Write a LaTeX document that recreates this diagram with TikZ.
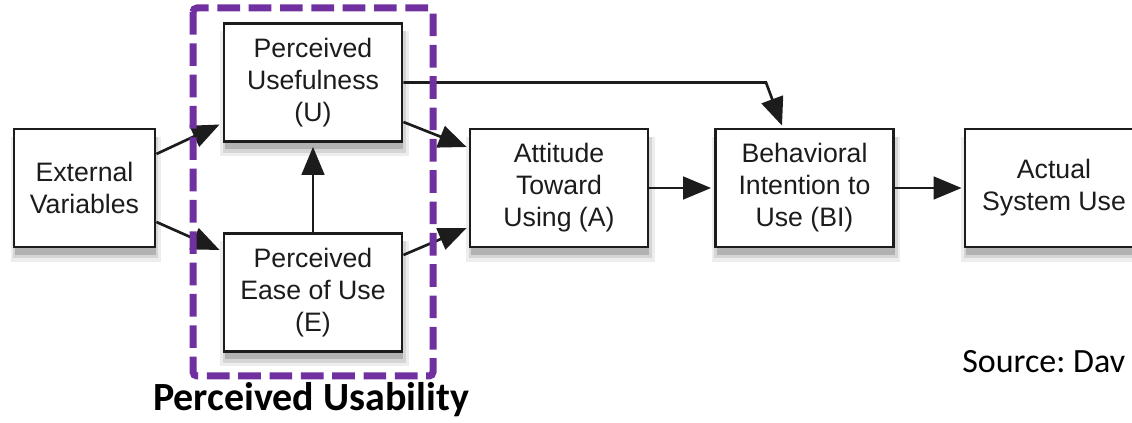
\documentclass[tikz,border=0pt]{standalone}
\usepackage{fontspec}
\setmainfont{Liberation Sans}
\newfontfamily\calibri{Carlito}
\usepackage{xcolor}
\usetikzlibrary{calc,arrows.meta,shadows}
\definecolor{ink}{HTML}{1C1C1C}
\definecolor{usab}{HTML}{7030A0}
\tikzset{
  softshadow/.style={
    general shadow={fill=black, opacity=0.16, shadow xshift=1pt, shadow yshift=-6pt},
    general shadow={fill=black, opacity=0.10, shadow xshift=1pt, shadow yshift=-7pt, shadow scale=1.03},
    general shadow={fill=black, opacity=0.07, shadow xshift=1pt, shadow yshift=-8pt, shadow scale=1.06}},
  box/.style={draw=ink, line width=2.1pt, fill=white, align=center, text=ink,
    inner sep=0pt, font=\fontsize{20}{24}\selectfont, softshadow},
  wide/.style={box, minimum width=133.5pt, minimum height=88.5pt},
  arr/.style={draw=ink, line width=2pt, -{Triangle[length=21pt,width=17pt]}},
  usabline/.style={draw=usab, line width=5.25pt, dash pattern=on 17pt off 6.5pt, rounded corners=3pt},
  caption/.style={font=\calibri\bfseries\fontsize{30}{36}\selectfont, inner sep=0pt},
  srclabel/.style={font=\calibri\fontsize{25.5}{30}\selectfont, inner sep=0pt}
}

\begin{document}
\begin{tikzpicture}[x=0.75pt, y=-0.75pt]
  \useasboundingbox (0,0) rectangle (1132,423);

  % boxes of the model
  \node[box, minimum width=105.75pt, minimum height=88.5pt] (ext) at (84.5,188) {External\\Variables};
  \node[wide] (pu) at (313,82.5) {Perceived\\Usefulness\\(U)};
  \node[wide] (peou) at (313,292.5) {Perceived\\Ease of Use\\(E)};
  \node[wide] (att) at (559,188) {Attitude\\Toward\\Using (A)};
  \node[wide] (bi) at (804.5,188) {Behavioral\\Intention to\\Use (BI)};
  \node[wide] (use) at (1054,188) {Actual\\System Use};

  \draw[arr] ($(ext.east)+(0,-34)$) -- ($(pu.west)+(-3,42)$);
  \draw[arr] ($(ext.east)+(0,34)$) -- ($(peou.west)+(-3,-42.5)$);
  \draw[arr] (peou.north) -- ($(pu.south)+(0,4)$);
  \draw[arr] ($(pu.east)+(0,39.5)$) -- ($(att.west)+(-2,-41)$);
  \draw[arr] ($(peou.east)+(0,-37.5)$) -- ($(att.west)+(-2,40)$);
  \draw[arr] (att.east) -- ($(bi.west)+(-3,0)$);
  \draw[arr] (bi.east) -- ($(use.west)+(-2,0)$);

  \coordinate (bend) at (766,82.5);
  \draw[arr] (pu.east) -- (bend) -- ($(bi.north)+(-22.5,-2)$);

  % perceived usability frame
  \draw[usabline] (193,8) rectangle (433,376);
  \node[caption, anchor=base] (usabtxt) at (311,411) {Perceived Usability};
  \node[srclabel, anchor=base west] (src) at (962,373) {\frenchspacing Source: Dav};
\end{tikzpicture}
\end{document}
